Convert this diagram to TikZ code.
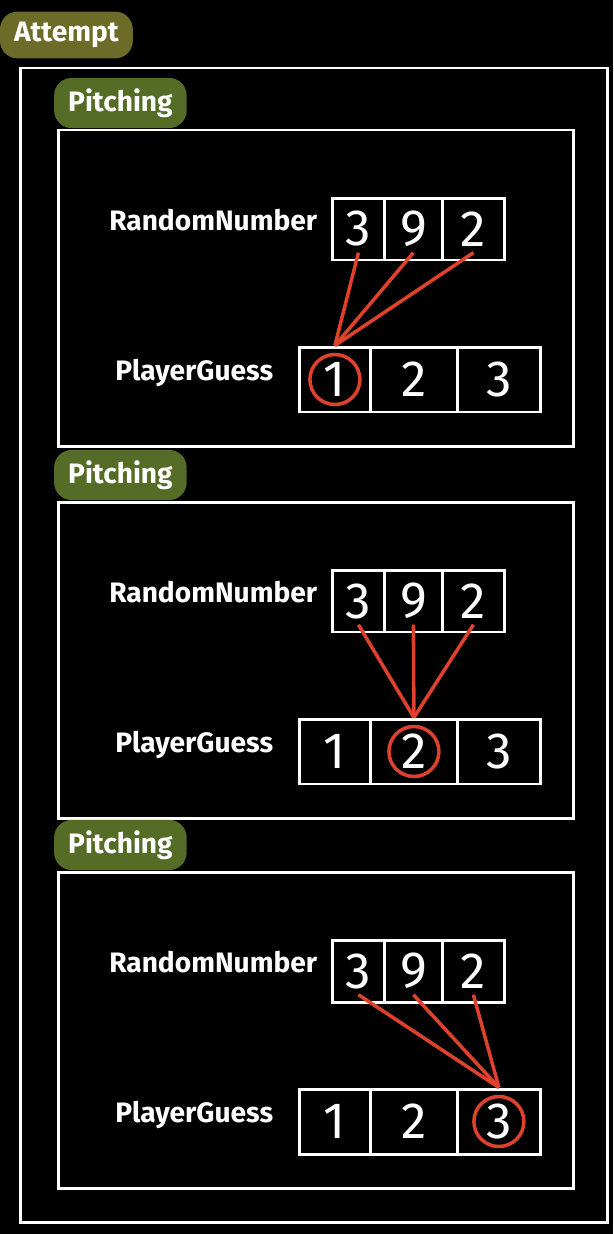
\documentclass[tikz,border=0pt]{standalone}
\usepackage{fontspec}
\setmainfont{Fira Sans}
\usetikzlibrary{positioning}
\definecolor{mossA}{RGB}{108,108,40}
\definecolor{mossB}{RGB}{84,108,38}
\definecolor{pen}{RGB}{222,66,44}
\begin{document}
\begin{tikzpicture}[x=0.02cm,y=-0.02cm,line width=1.7pt,
    tag/.style={fill=#1,text=white,font=\bfseries\fontsize{16}{18}\selectfont,
        rounded corners=10pt,inner xsep=8pt,inner ysep=6pt},
    lbl/.style={text=white,font=\bfseries\fontsize{16}{18}\selectfont},
    cell/.style={draw=white,text=white,inner sep=0pt,font=\fontsize{29}{32}\selectfont},
    hit/.style={draw=pen,line width=2pt,circle,minimum size=1.0cm}]
    \fill[black] (0,0) rectangle (613,1234);
    \node[tag=mossA] (attempt) at (66,35) {Attempt};
    \draw[white] (20,68) rectangle (607,1222);
    \foreach \k/\dy in {1/0,2/372,3/742}{
        \begin{scope}[shift={(0,\dy)}]
            \node[tag=mossB] (pitch\k) at (120,103) {Pitching};
            \draw[white] (58,130) rectangle (573,446);
            \node[lbl,anchor=east] (rn\k) at (324,220) {RandomNumber};
            \node[lbl,anchor=east] (pg\k) at (280,373) {PlayerGuess};
            % number cells
            \foreach \i/\cx/\w/\d in {1/358/1.04/3,2/413/1.16/9,3/473/1.24/2}
                \node[cell,minimum width=\w cm,minimum height=1.24cm] (r\k\i) at (\cx,229) {\d};
            \foreach \i/\cx/\w/\d in {1/334.5/1.42/1,2/413.5/1.74/2,3/498.5/1.66/3}
                \node[cell,minimum width=\w cm,minimum height=1.3cm] (g\k\i) at (\cx,379.5) {\d};
            \node[hit] (hit\k) at (g\k\k) {};
            \foreach \i in {1,2,3}
                \draw[pen,line width=2pt] ([yshift=5pt]r\k\i.south) -- (g\k\k.north);
        \end{scope}
    }
\end{tikzpicture}
\end{document}
